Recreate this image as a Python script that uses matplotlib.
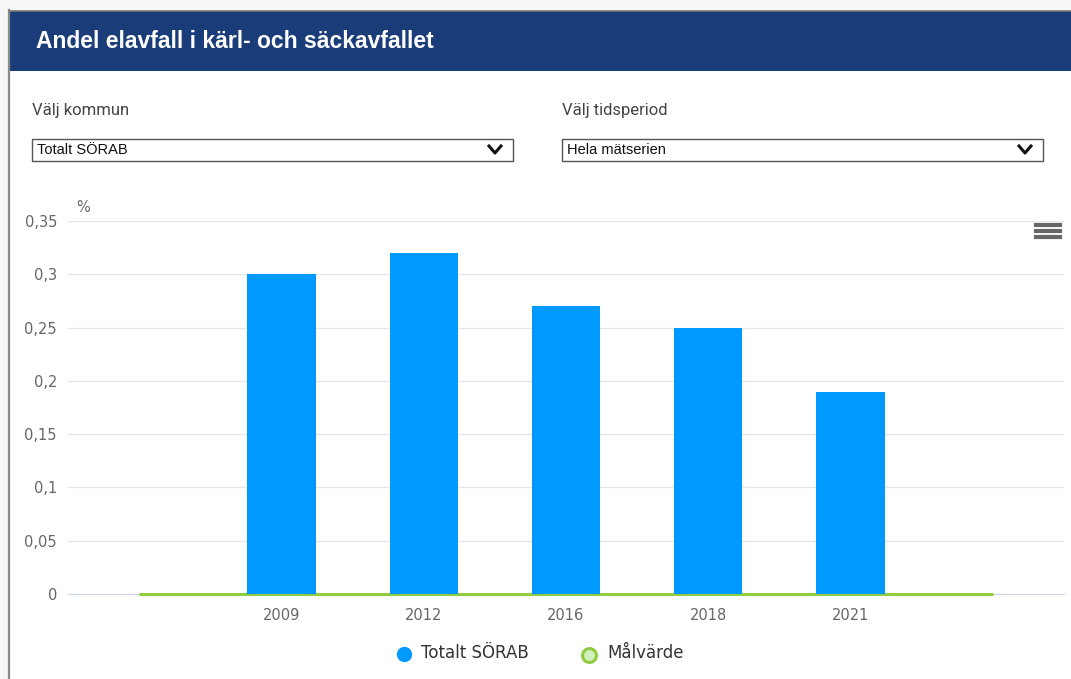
import matplotlib.pyplot as plt
from matplotlib.patches import Rectangle
from matplotlib.lines import Line2D

# data
years = ['', '2009', '2012', '2016', '2018', '2021', '']
andel = [None, 0.30, 0.32, 0.27, 0.25, 0.19, None]
malvarde = [0, 0, 0, 0, 0, 0, 0]
yticks = [0, 0.05, 0.1, 0.15, 0.2, 0.25, 0.3, 0.35]

W, H = 1071, 679
fig = plt.figure(figsize=(W / 100, H / 100), dpi=100)
fig.patch.set_facecolor('white')

def fx(px):
    return px / W

def fy(py):
    return 1 - py / H

# outer page shadow + frame
fig.patches.append(Rectangle((0, 0), fx(9), 1, transform=fig.transFigure,
                             facecolor='#f6f6f6', edgecolor='none', zorder=0))
fig.patches.append(Rectangle((0, fy(10)), 1, 10 / H, transform=fig.transFigure,
                             facecolor='#f6f6f6', edgecolor='none', zorder=0))
fig.add_artist(Line2D([fx(9), fx(9)], [0, fy(10)], transform=fig.transFigure,
                      color='#8a8a8a', lw=1.6))
fig.add_artist(Line2D([fx(9), 1], [fy(10.5), fy(10.5)], transform=fig.transFigure,
                      color='#7a7a7a', lw=1.2))

# header
fig.patches.append(Rectangle((fx(10), fy(71)), 1 - fx(10), 60 / H, transform=fig.transFigure,
                             facecolor='#1a3d7a', edgecolor='none', zorder=1))
fig.text(fx(36), fy(42), 'Andel elavfall i kärl- och säckavfallet', color='white',
         fontsize=16.5, fontweight='bold', family='Liberation Sans', va='center', ha='left')

# dropdowns
for x0, label, val in [(32, 'Välj kommun', 'Totalt SÖRAB'), (562, 'Välj tidsperiod', 'Hela mätserien')]:
    fig.text(fx(x0), fy(111), label, color='#444444', fontsize=12, family='Roboto', va='center')
    fig.patches.append(Rectangle((fx(x0), fy(161)), 481 / W, 22 / H, transform=fig.transFigure,
                                 facecolor='white', edgecolor='#555555', lw=1.0, zorder=2))
    fig.text(fx(x0 + 5), fy(150.5), val, color='#111111', fontsize=10.5, family='Liberation Sans',
             va='center', zorder=3)
    cx = x0 + 463
    fig.add_artist(Line2D([fx(cx - 6), fx(cx), fx(cx + 6)], [fy(146), fy(153), fy(146)],
                          transform=fig.transFigure, color='#111111', lw=2.2, zorder=3))

# hamburger menu
for yy in (225.5, 231, 236.5):
    fig.add_artist(Line2D([fx(1036), fx(1060)], [fy(yy), fy(yy)], transform=fig.transFigure,
                          color='#666666', lw=3.0))

# chart
ax = fig.add_axes([fx(68), fy(594), fx(1064) - fx(68), (594 - 221) / H])
x = list(range(len(years)))
bx = [i for i in x if andel[i] is not None]
bv = [andel[i] for i in bx]
ax.bar(bx, bv, width=0.48, color='#0099ff', zorder=5)
ax.plot(x, malvarde, color='#90cc3f', lw=2.2, zorder=4, solid_capstyle='butt', clip_on=False)

ax.set_xlim(-0.5, len(years) - 0.5)
ax.set_ylim(0, 0.35)
ax.set_yticks(yticks)
ax.set_yticklabels([('%g' % t).replace('.', ',') for t in yticks])
ax.set_xticks(x)
ax.set_xticklabels(years)
ax.tick_params(axis='both', length=0, labelsize=11, colors='#666666')
ax.tick_params(axis='y', pad=8)
ax.tick_params(axis='x', pad=10)
for lab in ax.get_xticklabels() + ax.get_yticklabels():
    lab.set_family('DejaVu Sans')
    lab.set_fontsize(10.5)
ax.grid(axis='y', color='#e6e6e6', lw=1, zorder=0)
for s in ['top', 'right', 'left']:
    ax.spines[s].set_visible(False)
ax.spines['bottom'].set_color('#ccd6eb')
ax.spines['bottom'].set_zorder(1)
ax.set_facecolor('none')

fig.text(fx(76), fy(208), '%', color='#666666', fontsize=10.5, va='center')

# legend
fig.add_artist(Line2D([fx(404)], [fy(654)], transform=fig.transFigure, marker='o',
                      markersize=10, color='#0099ff', lw=0))
fig.text(fx(421), fy(653), 'Totalt SÖRAB', color='#333333', fontsize=12, va='center')
fig.add_artist(Line2D([fx(589)], [fy(655)], transform=fig.transFigure, marker='o',
                      markersize=10, markerfacecolor='#d4f0c0', markeredgecolor='#90cc3f',
                      markeredgewidth=2.2, lw=0))
fig.text(fx(607), fy(653), 'Målvärde', color='#333333', fontsize=12, va='center')

fig.savefig('out.png', dpi=100)
